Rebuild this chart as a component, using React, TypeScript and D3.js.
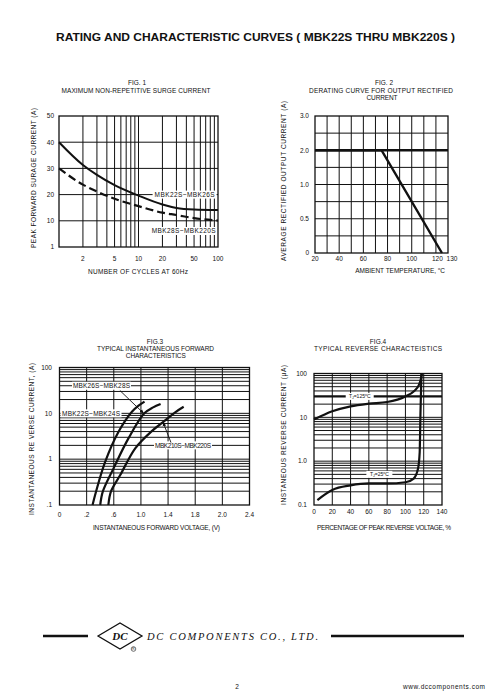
import React from 'react';
import * as d3 from 'd3';

// ---------------- Fig.1 data ----------------
const fig1Cycles = [1, 2, 3, 5, 10, 20, 30, 50, 100];
const fig1Solid = [40, 31.3, 27.5, 23.6, 19.6, 16.2, 14.9, 14.3, 14.1];
const fig1Dashed = [30, 23.8, 21.2, 18.4, 15.6, 13.1, 12.2, 11.0, 10.1];
const fig1YTicks = [1, 10, 20, 30, 40, 50];
const fig1XTicks = [2, 5, 10, 20, 50, 100];

// ---------------- Fig.2 data ----------------
const fig2Temp = [20, 75, 125];
const fig2Current = [2.0, 2.0, 0];
const fig2YTicks = [0, 0.5, 1.0, 2.0, 3.0];
const fig2YLabels = ['0', '0.5', '1.0', '2.0', '3.0'];
const fig2YGrid = [0.25, 0.5, 0.75, 1.0, 1.5, 2.0, 2.5];
const fig2XTicks = [20, 40, 60, 80, 100, 120, 130];

// ---------------- Fig.3 data ----------------
const fig3VoltsA = [0.287, 0.34, 0.474, 0.67, 0.867, 0.96, 1.053];
const fig3AmpsA = [0.1, 0.2, 0.88, 3.95, 10.8, 14.5, 18];
const fig3VoltsB = [0.4, 0.44, 0.596, 0.816, 1.05, 1.18, 1.29];
const fig3AmpsB = [0.1, 0.2, 0.63, 2.84, 10, 13.5, 16];
const fig3VoltsC = [0.52, 0.56, 0.695, 0.916, 1.16, 1.33, 1.5, 1.63];
const fig3AmpsC = [0.1, 0.2, 0.45, 1.72, 4.1, 6.5, 10.4, 13.9];
const fig3XTicks = [0, 0.2, 0.6, 1.0, 1.4, 1.8, 2.0, 2.4];
const fig3XLabels = ['0', '.2', '.6', '1.0', '1.4', '1.8', '2.0', '2.4'];
const fig3YTicks = [0.1, 1, 10, 100];
const fig3YLabels = ['.1', '1', '10', '100'];

// ---------------- Fig.4 data ----------------
const fig4Pct125 = [0, 20, 40, 60, 80, 100, 109, 114.8, 117.2, 118];
const fig4Cur125 = [8.9, 13.7, 17.8, 20.5, 22.4, 30, 39, 55, 80, 100];
const fig4Pct25 = [3.7, 20, 40, 60, 80, 100, 109, 113.8, 115.6, 116.4, 117.5];
const fig4Cur25 = [0.13, 0.22, 0.28, 0.31, 0.31, 0.33, 0.4, 0.68, 1.6, 11, 100];
const fig4XTicks = [0, 20, 40, 60, 80, 100, 120, 140];
const fig4YTicks = [0.1, 1, 10, 100];
const fig4YLabels = ['0.1', '1.0', '10', '100'];

const FONT = '"Liberation Sans", Arial, Helvetica, sans-serif';
const SERIF = '"Liberation Serif", "Times New Roman", serif';
const INK = '#111';
const FS = 6.5;

function T(props: any) {
  const { children, ...rest } = props;
  return (
    <text fontFamily={FONT} fontSize={FS} fill={INK} {...rest}>
      {children}
    </text>
  );
}

function YLabel({ x, cy, len, text }: any) {
  return (
    <text
      transform={`translate(${x},${cy}) rotate(-90)`}
      textAnchor="middle"
      fontFamily={FONT}
      fontSize={FS}
      fill={INK}
      textLength={len}
      lengthAdjust="spacing"
    >
      {text}
    </text>
  );
}

function Tj({ x, y, val }: any) {
  return (
    <text x={x} y={y} fontFamily={FONT} fontSize={5} fill={INK} textAnchor="middle">
      T<tspan fontSize={3.5} dy={1}>J</tspan>
      <tspan dy={-1}>={val}</tspan>
      <tspan fontSize={3.5} dy={-2}>o</tspan>
      <tspan dy={2}>C</tspan>
    </text>
  );
}

function Fig1() {
  const L = 59, R = 218, TOP = 116, B = 247;
  const x = d3.scaleLog().domain([1, 100]).range([L, R]);
  const y = d3.scaleLinear().domain([1, 10, 50]).range([B, B - (B - TOP) / 5, TOP]);
  const line = d3
    .line<number>()
    .x((_, i) => x(fig1Cycles[i]))
    .y((d) => y(d))
    .curve(d3.curveMonotoneX);
  const vGrid = x.ticks().filter((v) => v > 1 && v < 100);
  return (
    <g>
      <T x={137} y={85.3} textAnchor="middle">FIG. 1</T>
      <T x={136} y={93} textAnchor="middle" textLength={149} lengthAdjust="spacing">
        MAXIMUM NON-REPETITIVE SURGE CURRENT
      </T>
      {vGrid.map((v) => (
        <line key={v} x1={x(v)} x2={x(v)} y1={TOP} y2={B} stroke={INK} strokeWidth={1} />
      ))}
      {fig1YTicks.slice(1, -1).map((v) => (
        <line key={v} x1={L} x2={R} y1={y(v)} y2={y(v)} stroke={INK} strokeWidth={1} />
      ))}
      <rect x={L} y={TOP} width={R - L} height={B - TOP} fill="none" stroke={INK} strokeWidth={1.3} />
      <path d={line(fig1Solid) || ''} fill="none" stroke={INK} strokeWidth={2} />
      <path d={line(fig1Dashed) || ''} fill="none" stroke={INK} strokeWidth={2.2} strokeDasharray="8,4" />
      <rect x={x(38) - 32} y={y(20) - 4} width={64} height={8} fill="#fff" />
      <T x={x(38)} y={y(20) + 2.3} textAnchor="middle" textLength={60} lengthAdjust="spacing">
        MBK22S~MBK26S
      </T>
      <rect x={x(37) - 33} y={y(6.5) - 4} width={66} height={8} fill="#fff" />
      <T x={x(37)} y={y(6.5) + 2.3} textAnchor="middle" textLength={64} lengthAdjust="spacing">
        MBK28S~MBK220S
      </T>
      {fig1YTicks.map((v) => (
        <T key={v} x={54} y={y(v) + 2.3} textAnchor="end">{v}</T>
      ))}
      {fig1XTicks.map((v) => (
        <T key={v} x={x(v)} y={260.5} textAnchor="middle">{v}</T>
      ))}
      <T x={138} y={274} textAnchor="middle" textLength={100} lengthAdjust="spacing">
        NUMBER OF CYCLES AT 60Hz
      </T>
      <YLabel x={36} cy={178} len={140} text="PEAK FORWARD SURAGE  CURRENT (A)" />
    </g>
  );
}

function Fig2() {
  const L = 315, R = 448, TOP = 116, B = 253;
  const x = d3.scaleLinear().domain([20, 130]).range([L, R]);
  const y = d3.scaleLinear().domain(fig2YTicks).range(fig2YTicks.map((_, i) => B - ((B - TOP) * i) / 4));
  const line = d3
    .line<number>()
    .x((_, i) => x(fig2Temp[i]))
    .y((d) => y(d));
  const vGrid = x.ticks(11).filter((v) => v > 20 && v < 130);
  return (
    <g>
      <T x={384} y={85.3} textAnchor="middle">FIG. 2</T>
      <T x={381} y={92.8} textAnchor="middle" textLength={144} lengthAdjust="spacing">
        DERATING CURVE FOR OUTPUT RECTIFIED
      </T>
      <T x={382} y={100} textAnchor="middle" textLength={31} lengthAdjust="spacing">CURRENT</T>
      {vGrid.map((v) => (
        <line key={v} x1={x(v)} x2={x(v)} y1={TOP} y2={B} stroke={INK} strokeWidth={1} />
      ))}
      {fig2YGrid.map((v) => (
        <line key={v} x1={L} x2={R} y1={y(v)} y2={y(v)} stroke={INK} strokeWidth={v === 2 ? 2.4 : 1} />
      ))}
      <rect x={L} y={TOP} width={R - L} height={B - TOP} fill="none" stroke={INK} strokeWidth={1.3} />
      <path d={line(fig2Current) || ''} fill="none" stroke={INK} strokeWidth={2.4} />
      {fig2YTicks.map((v, i) => (
        <T key={v} x={309} y={y(v) + 2.3} textAnchor="end">{fig2YLabels[i]}</T>
      ))}
      {fig2XTicks.map((v) => (
        <T key={v} x={x(v) + (v === 130 ? 4 : v === 120 ? 1.5 : 0)} y={260.5} textAnchor="middle">{v}</T>
      ))}
      <text x={400} y={272.5} textAnchor="middle" fontFamily={FONT} fontSize={FS} fill={INK}>
        AMBIENT TEMPERATURE, <tspan fontSize={4} dy={-2.5}>o</tspan>
        <tspan dy={2.5}>C</tspan>
      </text>
      <YLabel x={285.5} cy={181} len={160} text="AVERAGE  RECTIFIED OUTPUT CURRENT  (A)" />
    </g>
  );
}

function Fig3() {
  const L = 59.5, R = 249.5, TOP = 367.5, B = 505;
  const step = (R - L) / (fig3XTicks.length - 1);
  const x = d3.scaleLinear().domain(fig3XTicks).range(fig3XTicks.map((_, i) => L + i * step));
  const y = d3.scaleLog().domain([0.1, 100]).range([B, TOP]);
  const mk = (xs: number[]) =>
    d3
      .line<number>()
      .x((_, i) => x(xs[i]))
      .y((d) => y(d))
      .curve(d3.curveCatmullRom.alpha(0.5));
  const hGrid = y.ticks().filter((v) => v > 0.1 && v < 100);
  return (
    <g>
      <T x={155} y={344.3} textAnchor="middle">FIG.3</T>
      <T x={155.5} y={351.3} textAnchor="middle" textLength={117} lengthAdjust="spacing">
        TYPICAL INSTANTANEOUS FORWARD
      </T>
      <T x={155.8} y={358} textAnchor="middle" textLength={60} lengthAdjust="spacing">CHARACTERISTICS</T>
      {fig3XTicks.slice(1, -1).map((v) => (
        <line key={v} x1={x(v)} x2={x(v)} y1={TOP} y2={B} stroke={INK} strokeWidth={1} />
      ))}
      {hGrid.map((v) => (
        <line key={v} x1={L} x2={R} y1={y(v)} y2={y(v)} stroke={INK} strokeWidth={1} />
      ))}
      <rect x={L} y={TOP} width={R - L} height={B - TOP} fill="none" stroke={INK} strokeWidth={1.3} />
      <path d={mk(fig3VoltsA)(fig3AmpsA) || ''} fill="none" stroke={INK} strokeWidth={2.2} />
      <path d={mk(fig3VoltsB)(fig3AmpsB) || ''} fill="none" stroke={INK} strokeWidth={2.2} />
      <path d={mk(fig3VoltsC)(fig3AmpsC) || ''} fill="none" stroke={INK} strokeWidth={2.2} />
      {/* annotations */}
      <rect x={72} y={y(40) - 4} width={59} height={8} fill="#fff" />
      <T x={101.5} y={y(40) + 2.3} textAnchor="middle" textLength={57} lengthAdjust="spacing">
        MBK26S~MBK28S
      </T>
      <line x1={x(0.69)} y1={y(31.5)} x2={x(1.04)} y2={y(10)} stroke={INK} strokeWidth={0.9} markerEnd="url(#ah)" />
      <rect x={60.5} y={y(10) - 4} width={61} height={8} fill="#fff" />
      <T x={91} y={y(10) + 2.3} textAnchor="middle" textLength={58} lengthAdjust="spacing">
        MBK22S~MBK24S
      </T>
      <rect x={154} y={y(2) - 4} width={58} height={8} fill="#fff" />
      <T x={183} y={y(2) + 2.3} textAnchor="middle" textLength={56} lengthAdjust="spacing">
        MBK210S~MBK220S
      </T>
      <line x1={x(1.443)} y1={y(2.3)} x2={x(1.326)} y2={y(6.4)} stroke={INK} strokeWidth={0.9} markerEnd="url(#ah)" />
      {fig3YTicks.map((v, i) => (
        <T key={v} x={52} y={y(v) + 2.3} textAnchor="end">{fig3YLabels[i]}</T>
      ))}
      {fig3XTicks.map((v, i) => (
        <T key={v} x={x(v)} y={516.5} textAnchor="middle">{fig3XLabels[i]}</T>
      ))}
      <T x={156.5} y={530.3} textAnchor="middle" textLength={127} lengthAdjust="spacing">
        INSTANTANEOUS FORWARD VOLTAGE, (V)
      </T>
      <YLabel x={34.3} cy={439} len={152} text="INSTANTANEOUS RE VERSE CURRENT, (A)" />
    </g>
  );
}

function Fig4() {
  const L = 314, R = 442, TOP = 373.5, B = 505;
  const x = d3.scaleLinear().domain([0, 140]).range([L, R]);
  const y = d3.scaleLog().domain([0.1, 100]).range([B, TOP]);
  const mk = (xs: number[]) =>
    d3
      .line<number>()
      .x((_, i) => x(xs[i]))
      .y((d) => y(d))
      .curve(d3.curveMonotoneX);
  const hGrid = y.ticks().filter((v) => v > 0.1 && v < 100);
  return (
    <g>
      <T x={378} y={344.3} textAnchor="middle">FIG.4</T>
      <T x={378} y={351.3} textAnchor="middle" textLength={128} lengthAdjust="spacing">
        TYPICAL REVERSE CHARACTEISTICS
      </T>
      {fig4XTicks.slice(1, -1).map((v) => (
        <line key={v} x1={x(v)} x2={x(v)} y1={TOP} y2={B} stroke={INK} strokeWidth={1} />
      ))}
      {hGrid.map((v) => (
        <line key={v} x1={L} x2={R} y1={y(v)} y2={y(v)} stroke={INK} strokeWidth={v === 30 ? 2.2 : 1} />
      ))}
      <rect x={L} y={TOP} width={R - L} height={B - TOP} fill="none" stroke={INK} strokeWidth={1.3} />
      <path d={mk(fig4Pct125)(fig4Cur125) || ''} fill="none" stroke={INK} strokeWidth={2.2} />
      <path d={mk(fig4Pct25)(fig4Cur25) || ''} fill="none" stroke={INK} strokeWidth={2.2} />
      <rect x={x(50) - 14} y={y(30) - 3.5} width={28} height={7} fill="#fff" />
      <Tj x={x(50)} y={y(30) + 1.8} val="125" />
      <rect x={x(71.5) - 13} y={y(0.5) - 3.5} width={26} height={7} fill="#fff" />
      <Tj x={x(71.5)} y={y(0.5) + 1.8} val="25" />
      {fig4YTicks.map((v, i) => (
        <T key={v} x={307} y={y(v) + 2.3} textAnchor="end">{fig4YLabels[i]}</T>
      ))}
      {fig4XTicks.map((v) => (
        <T key={v} x={x(v)} y={513.5} textAnchor="middle">{v}</T>
      ))}
      <T x={384} y={530.3} textAnchor="middle" textLength={134} lengthAdjust="spacing">
        PERCENTAGE OF PEAK REVERSE VOLTAGE, %
      </T>
      <YLabel x={285.5} cy={435} len={140} text="INSTANEOUS  REVERSE  CURRENT  (µA)" />
    </g>
  );
}

function Footer() {
  return (
    <g>
      <line x1={43} x2={88} y1={636} y2={636} stroke={INK} strokeWidth={2.5} />
      <path d="M98,636 L120,623 L142,636 L120,649 Z" fill="none" stroke={INK} strokeWidth={1.3} />
      <text x={120} y={640} textAnchor="middle" fontFamily={SERIF} fontStyle="italic" fontWeight="bold" fontSize={11} fill={INK}>
        DC
      </text>
      <circle cx={133.5} cy={649} r={2.3} fill="none" stroke={INK} strokeWidth={0.6} />
      <text x={133.5} y={650.3} textAnchor="middle" fontFamily={FONT} fontSize={3.2} fill={INK}>R</text>
      <text x={147} y={640} fontFamily={SERIF} fontStyle="italic" fontSize={10.5} fill={INK} textLength={171} lengthAdjust="spacing">
        DC COMPONENTS CO., LTD.
      </text>
      <line x1={331} x2={464} y1={636} y2={636} stroke={INK} strokeWidth={2.5} />
      <T x={237} y={689} textAnchor="middle">2</T>
      <T x={403} y={689} textLength={82} lengthAdjust="spacing">www.dccomponents.com</T>
    </g>
  );
}

export default function App() {
  return (
    <svg
      width={496}
      height={694}
      viewBox="0 0 496 694"
      style={{ position: 'absolute', left: 0, top: 0, background: '#fff' }}
    >
      <defs>
        <marker id="ah" viewBox="0 0 10 10" refX={9} refY={5} markerWidth={5} markerHeight={5} orient="auto">
          <path d="M0,1 L10,5 L0,9 Z" fill={INK} />
        </marker>
      </defs>
      <rect width={496} height={694} fill="#fff" />
      <text x={255.5} y={41} textAnchor="middle" fontFamily={FONT} fontWeight="bold" fontSize={11} fill={INK} textLength={399} lengthAdjust="spacingAndGlyphs">
        RATING AND CHARACTERISTIC CURVES ( MBK22S THRU MBK220S )
      </text>
      <Fig1 />
      <Fig2 />
      <Fig3 />
      <Fig4 />
      <Footer />
    </svg>
  );
}
